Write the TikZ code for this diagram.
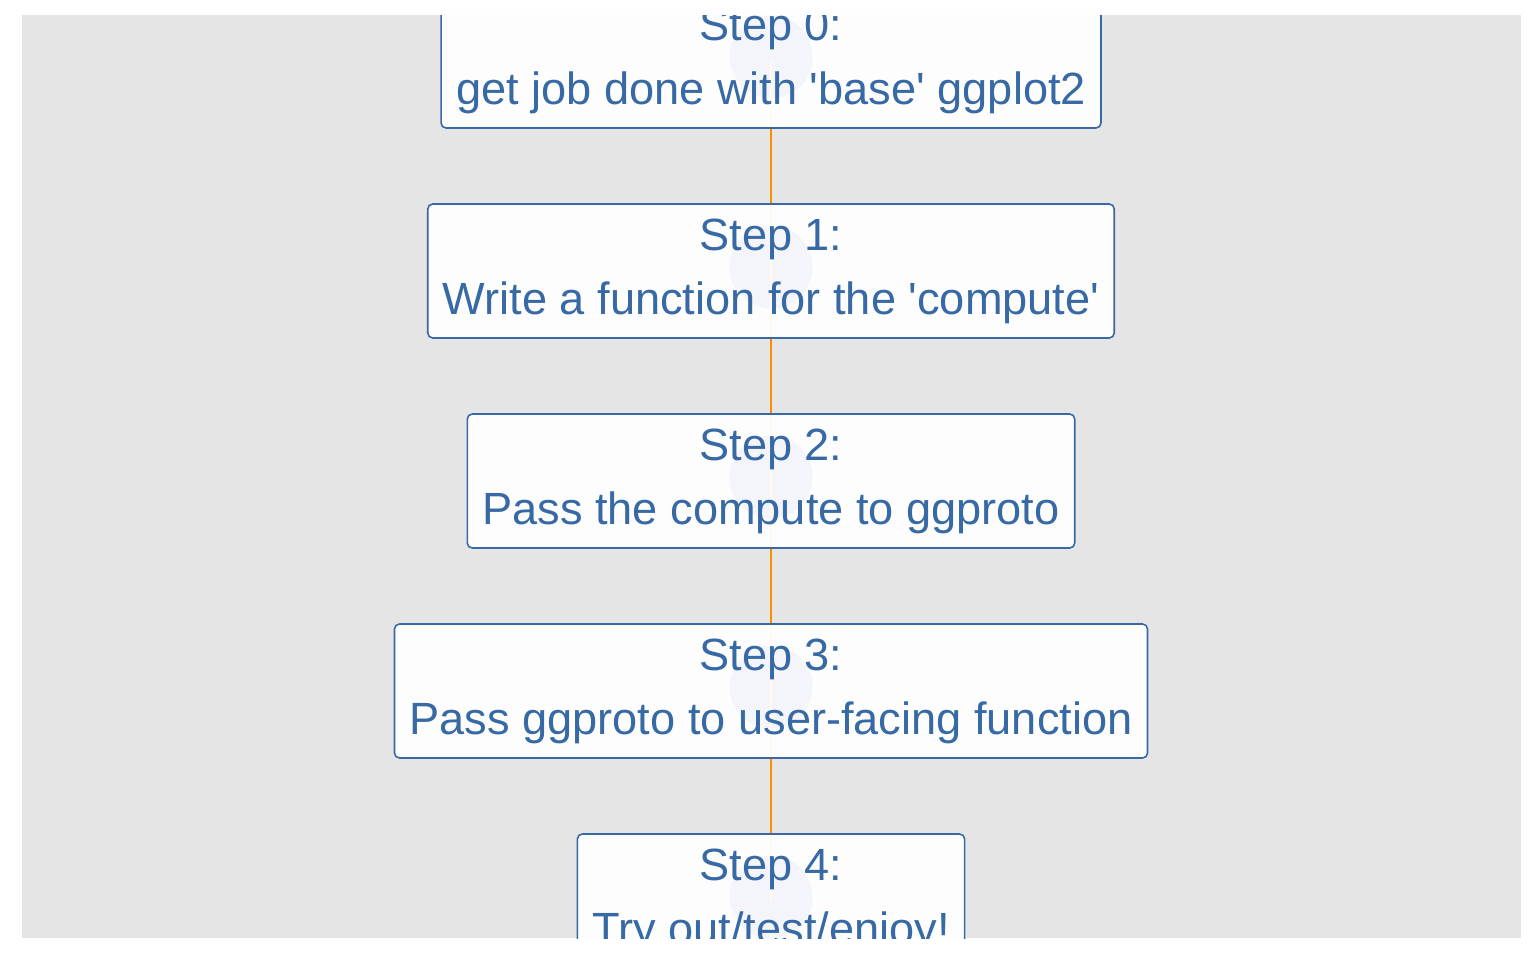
\documentclass[tikz,border=0pt]{standalone}
\usepackage{fontspec}
\setmainfont{Liberation Sans}
\definecolor{panelgray}{RGB}{229,229,229}
\definecolor{stepblue}{RGB}{55,105,165}
\definecolor{pointblue}{RGB}{20,60,170}
\definecolor{pathorange}{RGB}{255,140,0}

\begin{document}
\begin{tikzpicture}[
  stepbox/.style={draw=stepblue, line width=0.45pt, rounded corners=0.05cm,
    fill=white, fill opacity=0.95, text opacity=1, text=stepblue,
    align=center, inner xsep=0.15cm, inner ysep=0pt, minimum height=1.34cm,
    font=\fontsize{12.85pt}{18.2pt}\selectfont},
  steppoint/.style={fill=pointblue},
  steppath/.style={draw=pathorange, line width=0.8pt}]

%page and grey panel
\useasboundingbox (0,0) rectangle (15.36,9.6);
\fill[panelgray] (0.22,0.22) rectangle (15.21,9.45);

\begin{scope}
\clip (0.22,0.22) rectangle (15.21,9.45);
%positions of the steps
\coordinate (p0) at (7.71,8.99);
\coordinate (p1) at (7.71,6.89);
\coordinate (p2) at (7.71,4.79);
\coordinate (p3) at (7.71,2.69);
\coordinate (p4) at (7.71,0.59);
%points under the labels
\fill[steppoint] ([yshift=0.04cm]p0) circle (0.415);
\fill[steppoint] ([yshift=0.04cm]p1) circle (0.415);
\fill[steppoint] ([yshift=0.04cm]p2) circle (0.415);
\fill[steppoint] ([yshift=0.04cm]p3) circle (0.415);
\fill[steppoint] ([yshift=0.04cm]p4) circle (0.415);
%orange path
\draw[steppath] (p0) -- (p1) -- (p2) -- (p3) -- (p4);
%step labels
\node[stepbox] (s0) at (p0) {Step 0:\\get job done with \textquotesingle base\textquotesingle{} ggplot2};
\node[stepbox] (s1) at (p1) {Step 1:\\Write a function for the \textquotesingle compute\textquotesingle};
\node[stepbox] (s2) at (p2) {Step 2:\\Pass the compute to ggproto};
\node[stepbox] (s3) at (p3) {Step 3:\\Pass ggproto to user-facing function};
\node[stepbox] (s4) at (p4) {Step 4:\\Try out/test/enjoy!};
\end{scope}
\end{tikzpicture}
\end{document}
